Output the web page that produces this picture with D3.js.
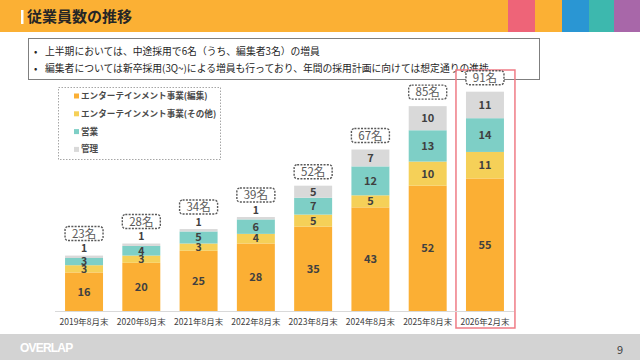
<!DOCTYPE html>
<html><head><meta charset="utf-8">
<script src="https://cdn.jsdelivr.net/npm/d3@7"></script>
<style>html,body{margin:0;padding:0;background:#fff;}svg{display:block;font-family:"Noto Sans CJK JP","Noto Sans",sans-serif;}</style>
</head><body>
<svg id="c" width="640" height="360"></svg>
<script>
const categories = ["2019年8月末","2020年8月末","2021年8月末","2022年8月末","2023年8月末","2024年8月末","2025年8月末","2026年2月末"];
const editorial = [16,20,25,28,35,43,52,55];
const entOther = [3,3,3,4,5,5,10,11];
const sales = [3,4,5,6,7,12,13,14];
const admin = [1,1,1,1,5,7,10,11];
const totals = [23,28,34,39,52,67,85,91];
const seriesNames = ["エンターテインメント事業(編集)","エンターテインメント事業(その他)","営業","管理"];
const seriesKeys = ["editorial","entOther","sales","admin"];
const colors = ["#FBAF34","#F5D058","#7ECFC6","#D9D9D9"];
const bullets = ["上半期においては、中途採用で6名（うち、編集者3名）の増員","編集者については新卒採用(3Q~)による増員も行っており、年間の採用計画に向けては想定通りの進捗"];

const svg = d3.select("#c");
// header
svg.append("rect").attr("x",0).attr("y",0).attr("width",640).attr("height",32).attr("fill","#FBB034");
const tabs = [["#EE6478",508,535],["#FBB034",535,562],["#2A96D3",562,589],["#3DB8AE",589,614],["#A867A9",614,640]];
tabs.forEach(t=>svg.append("rect").attr("x",t[1]).attr("y",0).attr("width",t[2]-t[1]).attr("height",32).attr("fill",t[0]));
svg.append("rect").attr("x",21).attr("y",10).attr("width",2.5).attr("height",14).attr("fill","#fff");
svg.append("text").attr("x",27).attr("y",22).attr("font-size",15).attr("font-weight","bold").attr("fill","#262626").text("従業員数の推移");

// bullet box
svg.append("rect").attr("x",28.5).attr("y",38.5).attr("width",511).attr("height",41).attr("fill","#fff").attr("stroke","#7F7F7F").attr("stroke-width",1);
bullets.forEach((b,i)=>{
  svg.append("text").attr("x",34).attr("y",55+i*17).attr("font-size",9.8).attr("fill","#262626").text("•");
  svg.append("text").attr("x",45).attr("y",55+i*17).attr("font-size",9.8).attr("fill","#262626").text(b);
});

// footer
svg.append("rect").attr("x",0).attr("y",334).attr("width",640).attr("height",26).attr("fill","#D3D3D3");
svg.append("text").attr("x",20).attr("y",352).attr("font-size",12).attr("font-weight","bold").attr("fill","#fff").attr("letter-spacing",-0.8).attr("font-family","Liberation Sans, sans-serif").text("OVERLAP");
svg.append("text").attr("x",617).attr("y",354).attr("font-size",11).attr("fill","#404040").text("9");

// scales
const x = d3.scaleBand().domain(categories).range([55.4,513.6]).paddingInner(0.337).paddingOuter(0.1685);
const y = d3.scaleLinear().domain([0,100]).range([311,70]);

const rows = categories.map((c,i)=>({cat:c, editorial:editorial[i], entOther:entOther[i], sales:sales[i], admin:admin[i], total:totals[i]}));
const stack = d3.stack().keys(seriesKeys)(rows);

// highlight box
const hx = x(categories[7]);
svg.append("rect").attr("x",hx-10).attr("y",70).attr("width",x.bandwidth()+21).attr("height",258).attr("fill","none").attr("stroke","#EF7C86").attr("stroke-width",1.5);

// axis line
svg.append("line").attr("x1",55).attr("x2",514).attr("y1",311.5).attr("y2",311.5).attr("stroke","#D9D9D9").attr("stroke-width",1);

const g = svg.append("g");
stack.forEach((s,si)=>{
  g.selectAll(null).data(s).enter().append("rect")
    .attr("x",d=>x(d.data.cat)).attr("width",x.bandwidth())
    .attr("y",d=>y(d[1])).attr("height",d=>y(d[0])-y(d[1]))
    .attr("fill",colors[si]);
});
stack.forEach((s,si)=>{
  g.selectAll(null).data(s).enter().append("text")
    .attr("x",d=>x(d.data.cat)+x.bandwidth()/2)
    .attr("y",d=>{const v=d[1]-d[0]; return (si===3 && v<=1) ? y(d[1])-7 : (y(d[0])+y(d[1]))/2;})
    .attr("dy","0.36em").attr("text-anchor","middle")
    .attr("font-size",d=>(d[1]-d[0])<=4 ? 10.5 : 11).attr("font-weight","bold")
    .attr("fill","#404040").text(d=>d[1]-d[0]);
});

// total boxes
rows.forEach((r,i)=>{
  const cx = x(r.cat)+x.bandwidth()/2;
  const bottom = y(r.total) - (r.admin<=1 ? 15 : 7);
  svg.append("rect").attr("x",cx-19).attr("y",bottom-14).attr("width",38).attr("height",14).attr("rx",3)
    .attr("fill","#fff").attr("stroke","#595959").attr("stroke-width",1.4).attr("stroke-dasharray","2,1.3");
  svg.append("text").attr("x",cx).attr("y",bottom-7).attr("dy","0.36em").attr("text-anchor","middle")
    .attr("font-size",11.5).attr("fill","#595959").text(r.total+"名");
});

// x axis labels
const xa = svg.append("g").attr("transform","translate(0,311)").call(d3.axisBottom(x).tickSize(0).tickPadding(8));
xa.select(".domain").remove();
xa.selectAll("text").attr("font-size",8.5).attr("fill","#404040").attr("font-family","Noto Sans CJK JP, sans-serif");

// legend
svg.append("rect").attr("x",58.5).attr("y",87.5).attr("width",162).attr("height",72).attr("fill","#fff")
  .attr("stroke","#A6A6A6").attr("stroke-width",1).attr("stroke-dasharray","1.5,1.5");
seriesNames.forEach((n,i)=>{
  const yy = 96 + i*17.8;
  svg.append("rect").attr("x",74).attr("y",yy-2.5).attr("width",5).attr("height",5).attr("fill",colors[i]);
  svg.append("text").attr("x",81).attr("y",yy).attr("dy","0.36em").attr("font-size",8.6).attr("font-weight","bold").attr("fill","#4A4A4A").text(n);
});
</script>
</body></html>
